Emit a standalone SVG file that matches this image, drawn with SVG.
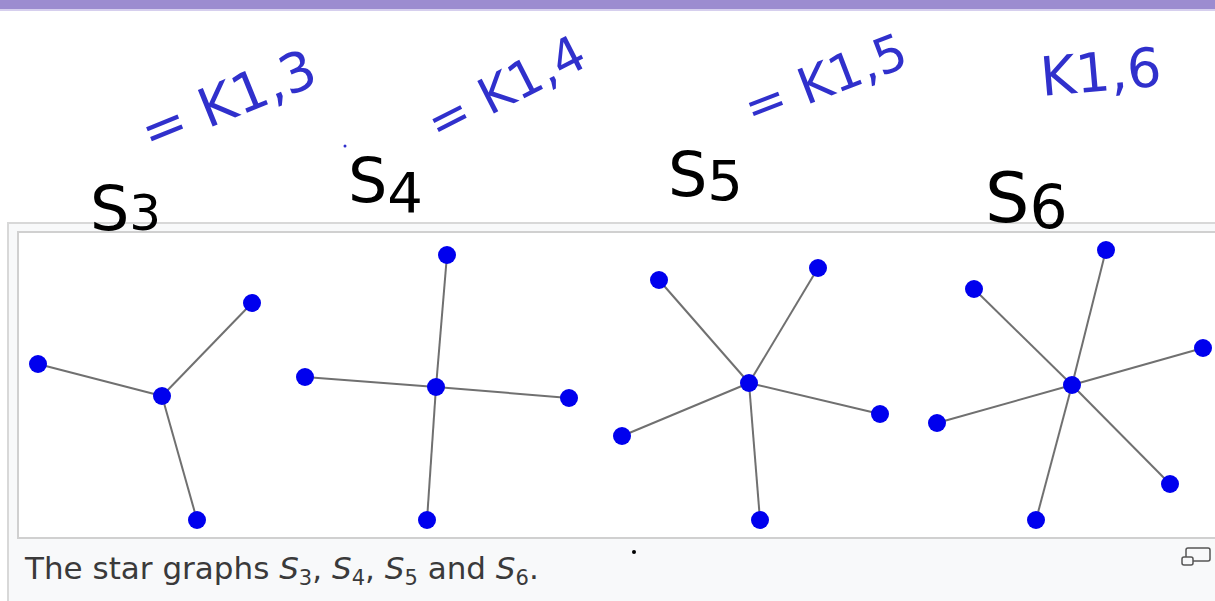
<svg xmlns="http://www.w3.org/2000/svg" width="1215" height="601" viewBox="0 0 1215 601">
<style>
.e{stroke:#707070;stroke-width:2}
.n{fill:#0000ee}
.hw{font-family:"DejaVu Sans",sans-serif;fill:#000}
.hb{font-family:"DejaVu Sans",sans-serif;fill:#3030cc}
.cap{font-family:"DejaVu Sans",sans-serif;font-size:31px;fill:#3a3a3a}
</style>
<rect x="0" y="0" width="1215" height="601" fill="#fff"/>
<rect x="0" y="0" width="1215" height="9" fill="#9c8cd0"/>
<rect x="0" y="9" width="1215" height="2" fill="#d6cfee"/>
<g id="frame">
<rect x="8" y="223" width="1215" height="390" fill="#f8f9fa" stroke="#d8d8d8" stroke-width="2"/>
<rect x="18" y="232" width="1205" height="306" fill="#fff" stroke="#d0d0d0" stroke-width="2"/>
</g>
<g id="connectors">
<line class="e" x1="162" y1="396" x2="38" y2="364"/>
<line class="e" x1="162" y1="396" x2="252" y2="303"/>
<line class="e" x1="162" y1="396" x2="197" y2="520"/>
<line class="e" x1="436" y1="387" x2="447" y2="255"/>
<line class="e" x1="436" y1="387" x2="305" y2="377"/>
<line class="e" x1="436" y1="387" x2="569" y2="398"/>
<line class="e" x1="436" y1="387" x2="427" y2="520"/>
<line class="e" x1="749" y1="383" x2="659" y2="280"/>
<line class="e" x1="749" y1="383" x2="818" y2="268"/>
<line class="e" x1="749" y1="383" x2="622" y2="436"/>
<line class="e" x1="749" y1="383" x2="880" y2="414"/>
<line class="e" x1="749" y1="383" x2="760" y2="520"/>
<line class="e" x1="1072" y1="385" x2="1106" y2="250"/>
<line class="e" x1="1072" y1="385" x2="974" y2="289"/>
<line class="e" x1="1072" y1="385" x2="1203" y2="348"/>
<line class="e" x1="1072" y1="385" x2="937" y2="423"/>
<line class="e" x1="1072" y1="385" x2="1170" y2="484"/>
<line class="e" x1="1072" y1="385" x2="1036" y2="520"/>
</g>
<g id="S3">
<circle class="n" cx="162" cy="396" r="9"/><circle class="n" cx="38" cy="364" r="9"/><circle class="n" cx="252" cy="303" r="9"/><circle class="n" cx="197" cy="520" r="9"/>
</g>
<g id="S4">
<circle class="n" cx="436" cy="387" r="9"/><circle class="n" cx="447" cy="255" r="9"/><circle class="n" cx="305" cy="377" r="9"/><circle class="n" cx="569" cy="398" r="9"/><circle class="n" cx="427" cy="520" r="9"/>
</g>
<g id="S5">
<circle class="n" cx="749" cy="383" r="9"/><circle class="n" cx="659" cy="280" r="9"/><circle class="n" cx="818" cy="268" r="9"/><circle class="n" cx="622" cy="436" r="9"/><circle class="n" cx="880" cy="414" r="9"/><circle class="n" cx="760" cy="520" r="9"/>
</g>
<g id="S6">
<circle class="n" cx="1072" cy="385" r="9"/><circle class="n" cx="1106" cy="250" r="9"/><circle class="n" cx="974" cy="289" r="9"/><circle class="n" cx="1203" cy="348" r="9"/><circle class="n" cx="937" cy="423" r="9"/><circle class="n" cx="1170" cy="484" r="9"/><circle class="n" cx="1036" cy="520" r="9"/>
</g>
<g id="handwriting">
<text class="hw" x="90" y="230" font-size="62">S<tspan font-size="50">3</tspan></text>
<text class="hw" x="348" y="202" font-size="62">S<tspan font-size="56" dy="10">4</tspan></text>
<text class="hw" x="668" y="196" font-size="62">S<tspan font-size="56" dy="4">5</tspan></text>
<text class="hw" x="985" y="222" font-size="70">S<tspan font-size="60" dy="6">6</tspan></text>
<text class="hb" x="150" y="152" font-size="54" transform="rotate(-22 150 152)">= K1,3</text>
<text class="hb" x="438" y="142" font-size="50" transform="rotate(-27 438 142)">= K1,4</text>
<text class="hb" x="752" y="126" font-size="50" transform="rotate(-21 752 126)">= K1,5</text>
<text class="hb" x="1042" y="96" font-size="54" transform="rotate(-5 1042 96)">K1,6</text>
<circle cx="345" cy="146" r="1.5" fill="#3030cc"/>
</g>
<g id="caption">
<text class="cap" x="25" y="579">The star graphs <tspan font-style="italic">S</tspan><tspan font-size="21" dy="6">3</tspan><tspan dy="-6">, </tspan><tspan font-style="italic">S</tspan><tspan font-size="21" dy="6">4</tspan><tspan dy="-6">, </tspan><tspan font-style="italic">S</tspan><tspan font-size="21" dy="6">5</tspan><tspan dy="-6"> and </tspan><tspan font-style="italic">S</tspan><tspan font-size="21" dy="6">6</tspan><tspan dy="-6">.</tspan></text>
<circle cx="634" cy="552" r="2" fill="#000"/>
<g id="icon" fill="none" stroke="#555" stroke-width="1.5">
<rect x="1186" y="548" width="24" height="13" rx="2"/>
<rect x="1182" y="557" width="11" height="8" rx="2" fill="#f8f9fa"/>
</g>
</g>
</svg>
